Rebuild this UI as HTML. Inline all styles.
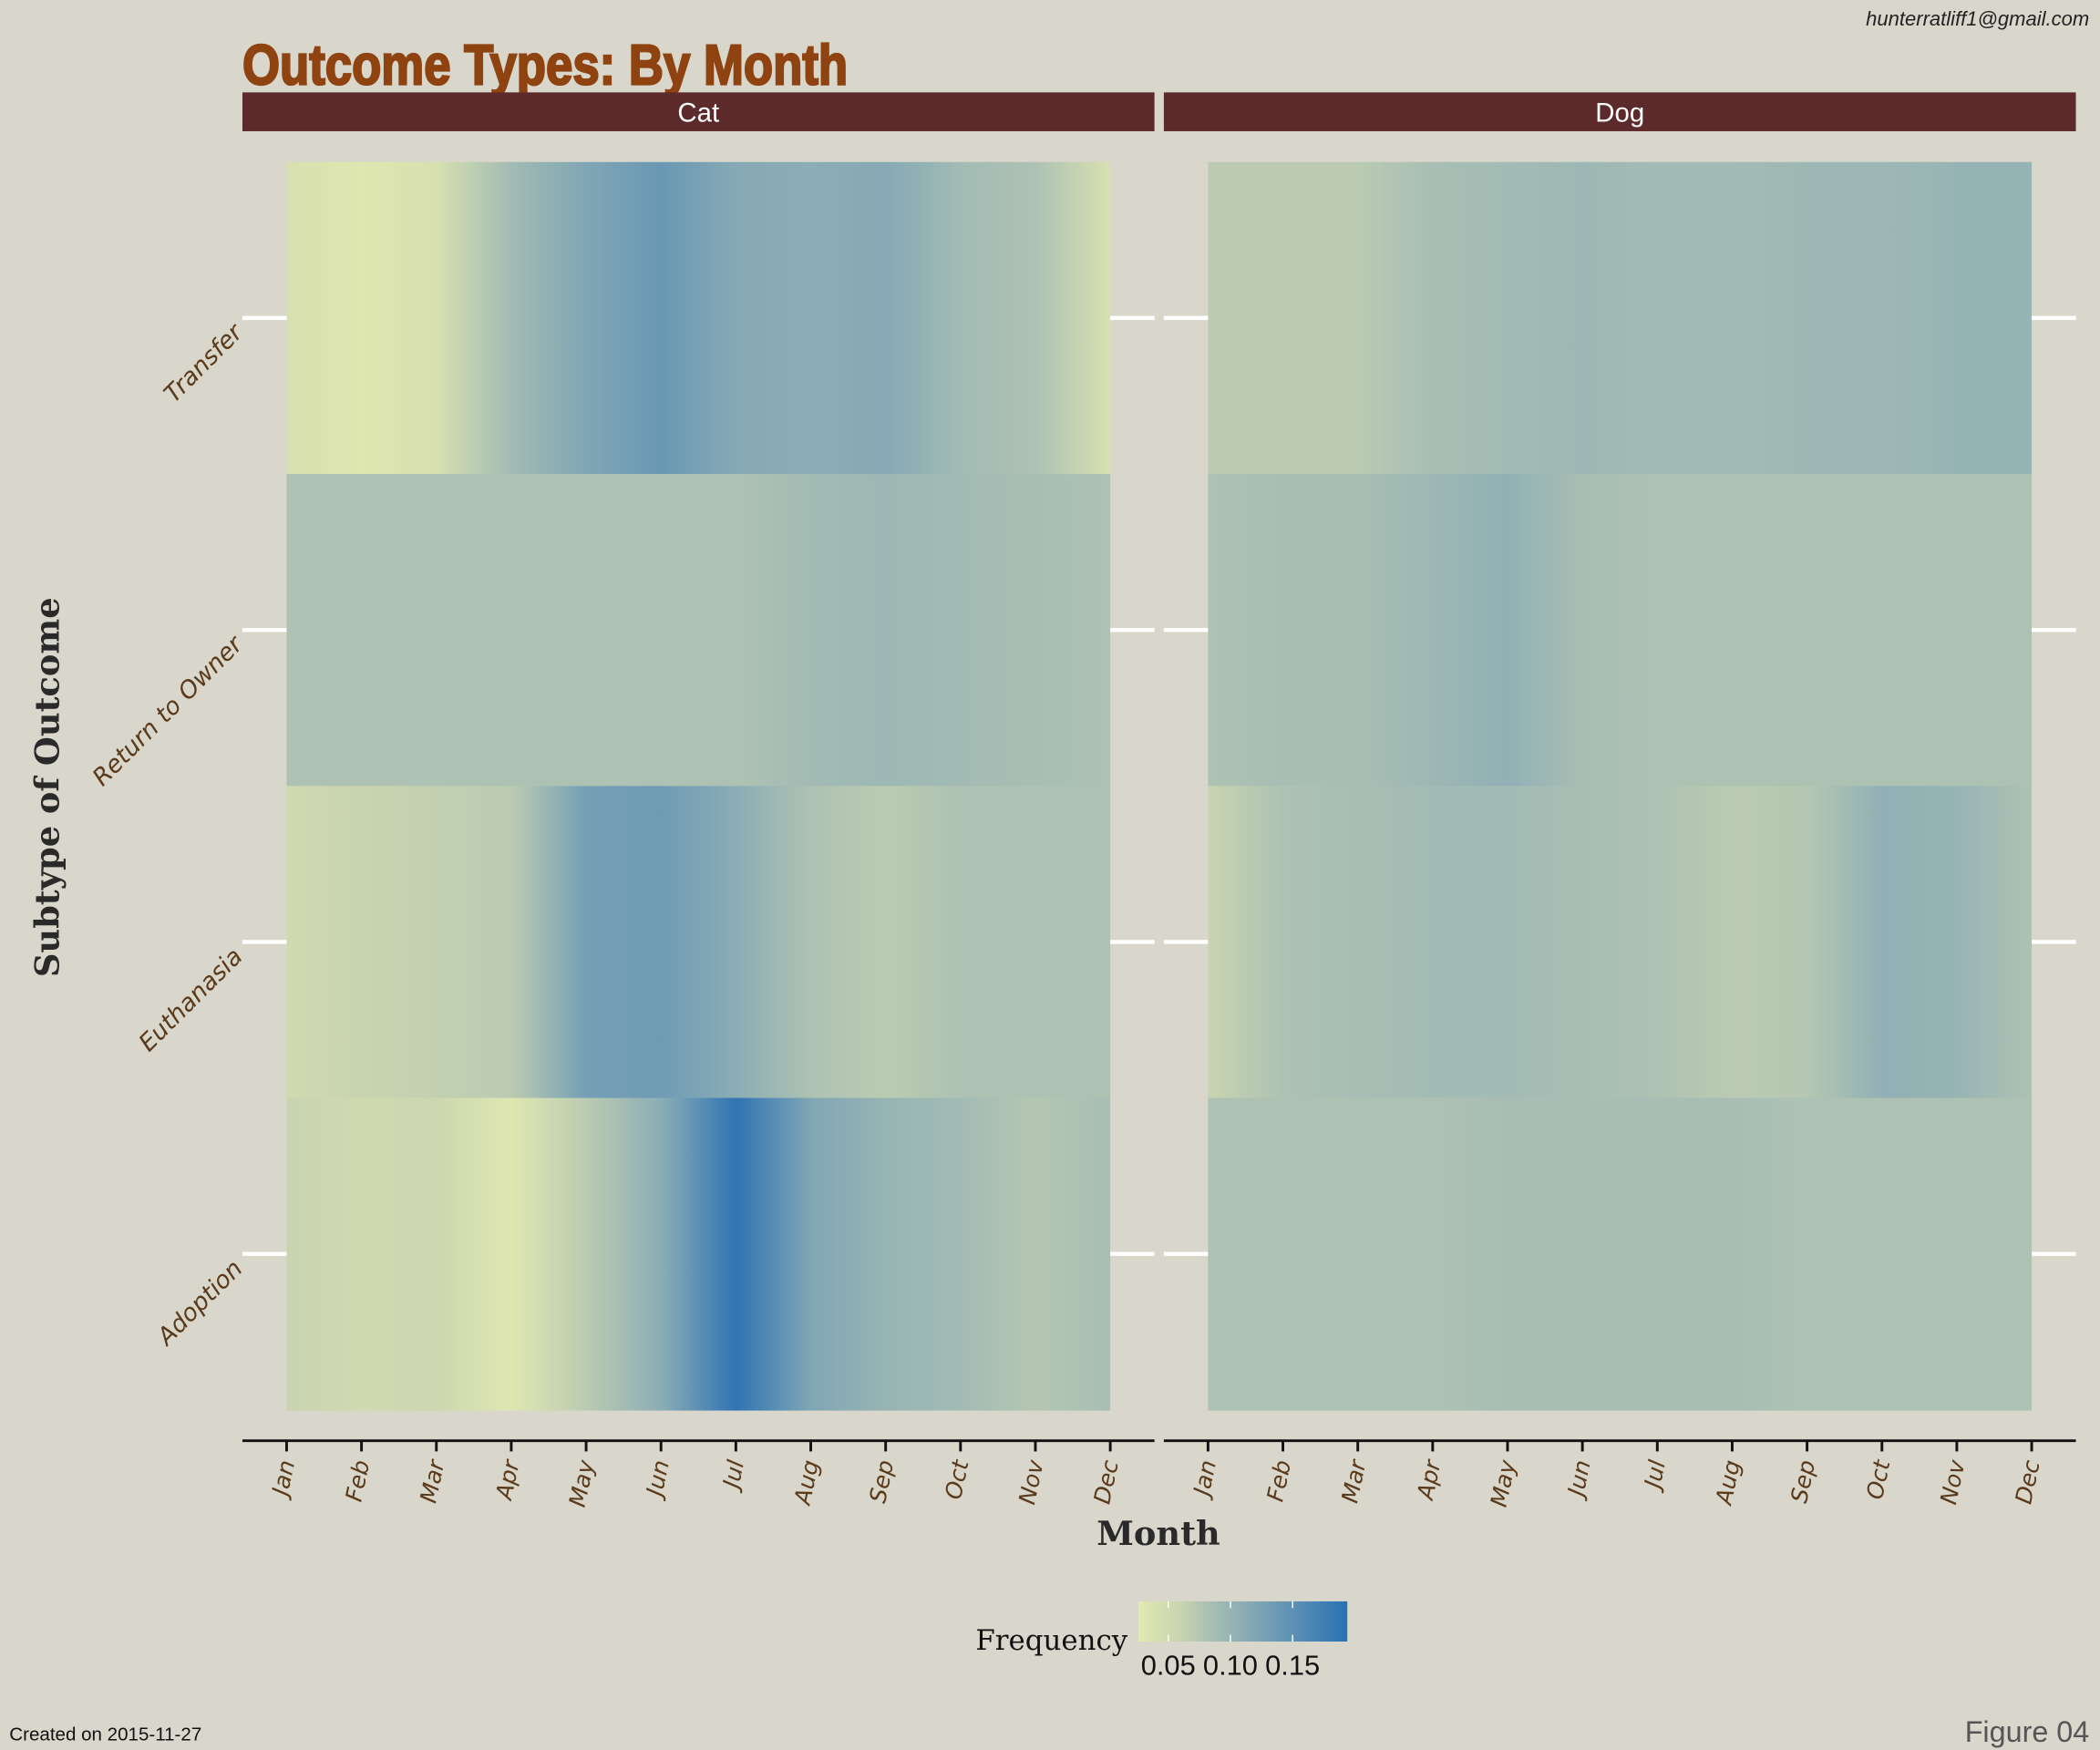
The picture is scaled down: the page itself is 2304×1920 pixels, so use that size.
<!DOCTYPE html>
<html><head><meta charset="utf-8"><style>
html,body{margin:0;padding:0;background:#d9d7cb;}
svg{display:block;}
</style></head><body>
<svg id="chart" width="2304" height="1920" viewBox="0 0 1568 1307" preserveAspectRatio="none" xmlns="http://www.w3.org/2000/svg">
<rect x="0" y="0" width="1568" height="1307" fill="#d9d7cb"/>
<defs id="defs"></defs>
<text x="1560" y="19" text-anchor="end" font-family="Liberation Sans, sans-serif" font-style="italic" font-size="15" fill="#222">hunterratliff1@gmail.com</text>
<text x="181" y="63" font-family="Liberation Sans Narrow, Liberation Sans, sans-serif" font-weight="bold" font-size="42" fill="#8e4310" stroke="#8e4310" stroke-width="1.6" textLength="452" lengthAdjust="spacingAndGlyphs">Outcome Types: By Month</text>
<g id="plot"></g>
<text transform="translate(44,588) rotate(-90)" text-anchor="middle" font-family="DejaVu Serif, Liberation Serif, serif" font-weight="bold" font-size="25" fill="#2a2a2a">Subtype of Outcome</text>
<text x="865" y="1154" text-anchor="middle" font-family="DejaVu Serif, Liberation Serif, serif" font-weight="bold" font-size="25" fill="#2a2a2a">Month</text>
<g id="legend"></g>
<text x="7" y="1300" font-family="Liberation Sans, sans-serif" font-size="14" fill="#111">Created on 2015-11-27</text>
<text x="1560" y="1301" text-anchor="end" font-family="Liberation Sans, sans-serif" font-size="22" fill="#555">Figure 04</text>
</svg>
<script>
const months=["Jan","Feb","Mar","Apr","May","Jun","Jul","Aug","Sep","Oct","Nov","Dec"];
const outcomes=["Transfer","Return to Owner","Euthanasia","Adoption"];
const panels=["Cat","Dog"];
const catTransfer=[0.04,0.03,0.04,0.09,0.12,0.14,0.115,0.11,0.115,0.09,0.08,0.04];
const catReturn=[0.08,0.08,0.08,0.08,0.08,0.08,0.08,0.09,0.095,0.09,0.085,0.08];
const catEuthanasia=[0.05,0.06,0.065,0.07,0.13,0.135,0.11,0.08,0.07,0.08,0.08,0.08];
const catAdoption=[0.06,0.05,0.055,0.03,0.07,0.11,0.19,0.12,0.1,0.09,0.075,0.085];
const dogTransfer=[0.07,0.07,0.07,0.085,0.09,0.095,0.09,0.09,0.095,0.095,0.1,0.1];
const dogReturn=[0.08,0.085,0.085,0.095,0.105,0.085,0.08,0.08,0.08,0.08,0.08,0.08];
const dogEuthanasia=[0.06,0.08,0.085,0.09,0.09,0.085,0.08,0.07,0.075,0.105,0.1,0.08];
const dogAdoption=[0.08,0.08,0.08,0.08,0.085,0.085,0.085,0.085,0.08,0.08,0.08,0.08];
const legendTicks=[0.05,0.10,0.15];
const legendLabels=["0.05","0.10","0.15"];
const data={Cat:[catTransfer,catReturn,catEuthanasia,catAdoption],Dog:[dogTransfer,dogReturn,dogEuthanasia,dogAdoption]};
const vmin=0.026,vmax=0.194;
const cstops=[[0.026,[226,233,176]],[0.06,[200,212,176]],[0.085,[168,190,180]],[0.12,[128,166,181]],[0.194,[42,113,179]]];
function color(v){v=Math.max(vmin,Math.min(vmax,v));for(let i=0;i<cstops.length-1;i++){const a=cstops[i],b=cstops[i+1];if(v<=b[0]){const t=(v-a[0])/(b[0]-a[0]);const c=a[1].map((x,k)=>Math.round(x+(b[1][k]-x)*t));return`rgb(${c})`;}}return"rgb(42,113,179)";}
const NS="http://www.w3.org/2000/svg";
function mk(tag,attrs,parent){const e=document.createElementNS(NS,tag);for(const k in attrs)e.setAttribute(k,attrs[k]);parent.appendChild(e);return e;}
const defsEl=document.getElementById('defs'),plotEl=document.getElementById('plot');
const panelX=[181,869],panelW=681,inner=33,topY=121,rowH=233,axisY=1076;
panels.forEach((p,pi)=>{
 const px=panelX[pi];const x0=px+inner,x1=px+panelW-inner;
 const xs=i=>x0+(x1-x0)*i/11;
 const g=mk('g',{},plotEl);
 
 
 const s=mk('rect',{x:px,y:69,width:panelW,height:29,fill:'#5c2a2a'},g);
 
 
 const st=mk('text',{x:px+panelW/2,y:91,'text-anchor':'middle','font-family':'Liberation Sans, sans-serif','font-size':20,fill:'#fff'},g);
 st.textContent=p;
 
 
 outcomes.forEach((o,ri)=>{
  const id='g'+pi+'_'+ri;
  const lg=mk('linearGradient',{id:id,x1:0,x2:1,y1:0,y2:0},defsEl);
  data[p][ri].forEach((v,i)=>mk('stop',{offset:(i/11),'stop-color':color(v)},lg));
  const r=mk('rect',{x:x0,y:topY+ri*rowH,width:x1-x0,height:rowH+0.5,fill:'url(#'+id+')'},g);
  
  
  const cy=topY+ri*rowH+rowH/2;
  [[px,x0],[x1,px+panelW]].forEach(([a,b])=>{const t=mk('line',{x1:a,x2:b,y1:cy,y2:cy,stroke:'#fff','stroke-width':3},g);
   
   });
  if(pi===0){const yl=mk('text',{transform:`translate(182,${cy+12}) rotate(-45)`,'text-anchor':'end','font-family':'DejaVu Sans, sans-serif','font-style':'italic','font-size':18,fill:'#5a3a1a'},g);
   yl.textContent=o;
   
   }
 });
 const ax=mk('line',{x1:px,x2:px+panelW,y1:axisY,y2:axisY,stroke:'#111','stroke-width':2},g);
 
 
 months.forEach((m,i)=>{const x=xs(i);
  const t=mk('line',{x1:x,x2:x,y1:axisY,y2:axisY+8,stroke:'#111','stroke-width':2},g);
  
  
  const l=mk('text',{transform:`translate(${x+6},${axisY+16}) rotate(-78)`,'text-anchor':'end','font-family':'DejaVu Sans, sans-serif','font-style':'italic','font-size':17,fill:'#5a3a1a'},g);
  l.textContent=m;
  
  });
});
const leg=document.getElementById('legend');
const bx0=850,bx1=1006;const lx=v=>bx0+(bx1-bx0)*(v-vmin)/(vmax-vmin);
const lgd=mk('linearGradient',{id:'leggrad',x1:0,x2:1,y1:0,y2:0},defsEl);
cstops.forEach(c=>mk('stop',{offset:(c[0]-vmin)/(vmax-vmin),'stop-color':`rgb(${c[1]})`},lgd));
const lt=mk('text',{x:842,y:1232,'text-anchor':'end','font-family':'DejaVu Serif, Liberation Serif, serif','font-size':21,fill:'#111'},leg);
lt.textContent='Frequency';


const lb=mk('rect',{x:bx0,y:1196,width:bx1-bx0,height:30,fill:'url(#leggrad)'},leg);


legendTicks.forEach((v,i)=>{const x=lx(v);
 [[1196,1201],[1221,1226]].forEach(([a,b])=>{const t=mk('line',{x1:x,x2:x,y1:a,y2:b,stroke:'#fff','stroke-width':1},leg);
  
  });
 const tx=mk('text',{x:x,y:1251,'text-anchor':'middle','font-family':'Liberation Sans, sans-serif','font-size':21,fill:'#111'},leg);
 tx.textContent=legendLabels[i];
 
 });
</script>
</body></html>
